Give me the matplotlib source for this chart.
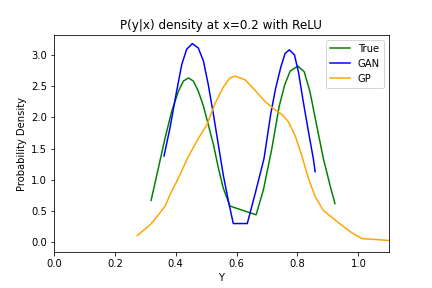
import matplotlib
matplotlib.use("Agg")
import matplotlib.pyplot as plt

# true conditional density
true_y = [0.319, 0.343, 0.365, 0.387, 0.409, 0.425, 0.442, 0.458, 0.474, 0.491,
          0.507, 0.524, 0.540, 0.556, 0.578, 0.664, 0.688, 0.715, 0.740, 0.758,
          0.776, 0.801, 0.822, 0.841, 0.863, 0.885, 0.907, 0.923]
true_p = [0.67, 1.19, 1.67, 2.10, 2.42, 2.58, 2.63, 2.58, 2.42, 2.18,
          1.88, 1.56, 1.19, 0.87, 0.58, 0.44, 0.84, 1.48, 2.18, 2.52,
          2.74, 2.82, 2.73, 2.41, 1.87, 1.34, 0.91, 0.62]

# GAN estimate
gan_y = [0.3615, 0.381, 0.403, 0.420, 0.436, 0.4545, 0.474, 0.491, 0.507, 0.524,
         0.540, 0.556, 0.573, 0.589, 0.635, 0.661, 0.690, 0.712, 0.728, 0.745,
         0.759, 0.773, 0.790, 0.803, 0.819, 0.836, 0.852, 0.858]
gan_p = [1.38, 1.83, 2.42, 2.85, 3.09, 3.18, 3.11, 2.90, 2.52, 2.04,
         1.56, 1.08, 0.66, 0.30, 0.30, 0.78, 1.34, 2.05, 2.46, 2.80,
         3.02, 3.08, 3.00, 2.73, 2.25, 1.77, 1.34, 1.13]

# GP estimate
gp_y = [0.274, 0.316, 0.340, 0.365, 0.385, 0.409, 0.442, 0.474, 0.502, 0.529,
        0.556, 0.578, 0.595, 0.628, 0.661, 0.694, 0.721, 0.748, 0.770, 0.792,
        0.814, 0.836, 0.858, 0.885, 0.923, 0.973, 1.011, 1.099, 1.12]
gp_p = [0.11, 0.28, 0.42, 0.58, 0.80, 1.03, 1.38, 1.66, 1.88, 2.22,
        2.48, 2.63, 2.66, 2.60, 2.43, 2.25, 2.14, 2.05, 1.93, 1.71,
        1.39, 1.02, 0.73, 0.51, 0.36, 0.17, 0.06, 0.03, 0.025]

fig, ax = plt.subplots(figsize=(6, 4), dpi=72)
fig.subplots_adjust(left=0.125, right=0.9, top=0.879, bottom=0.124)

ax.plot(true_y, true_p, color='green', label='True')
ax.plot(gan_y, gan_p, color='blue', label='GAN')
ax.plot(gp_y, gp_p, color='orange', label='GP')

ax.set_xlim(0, 1.1)
ax.set_ylim(-0.16, 3.32)
ax.set_xlabel('Y')
ax.set_ylabel('Probability Density')
ax.set_title('P(y|x) density at x=0.2 with ReLU')
ax.legend(loc='upper right')

fig.savefig('out.png', dpi=72)
